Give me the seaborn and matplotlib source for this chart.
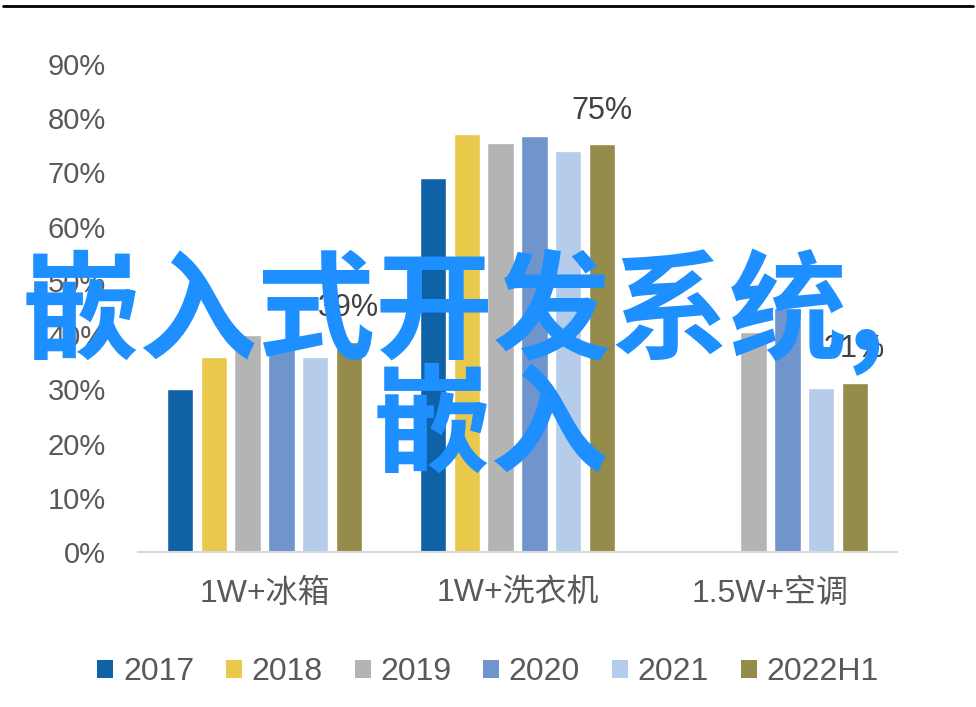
import matplotlib
matplotlib.use("Agg")
import matplotlib.pyplot as plt
import seaborn as sns
import numpy as np
import pandas as pd
from matplotlib.patches import Patch
from matplotlib.lines import Line2D

categories = ["1W+冰箱", "1W+洗衣机", "1.5W+空调"]
years = ["2017", "2018", "2019", "2020", "2021", "2022H1"]
v2017 = [0.30, 0.69, np.nan]
v2018 = [0.36, 0.77, np.nan]
v2019 = [0.40, 0.755, 0.405]
v2020 = [0.38, 0.768, 0.45]
v2021 = [0.36, 0.74, 0.303]
v2022 = [0.388, 0.752, 0.312]
label_texts = ["39%", "75%", "31%"]
colors = ["#0F62A6", "#E9C94B", "#B4B4B4", "#7095CC", "#B5CCEA", "#958B4A"]
yticks = [0, 0.1, 0.2, 0.3, 0.4, 0.5, 0.6, 0.7, 0.8, 0.9]
overlay1 = "嵌入式开发系统,"
overlay2 = "嵌入"

series = [v2017, v2018, v2019, v2020, v2021, v2022]
rows = []
for y, vals in zip(years, series):
    for c, v in zip(categories, vals):
        rows.append({"cat": c, "year": y, "val": v})
df = pd.DataFrame(rows)

sns.set_theme(style="white")
plt.rcParams['font.family'] = ['Liberation Sans', 'Noto Sans CJK SC', 'DejaVu Sans']

fig = plt.figure(figsize=(9.76, 7.07), dpi=100)
ax = fig.add_axes([138/976, 1-552/707, (897-138)/976, (552-64)/707])

sns.barplot(data=df, x="cat", y="val", hue="year", order=categories,
            hue_order=years, palette=colors, width=0.8, gap=0.22,
            saturation=1, ax=ax, legend=False, errorbar=None)

ax.set_ylim(0, 0.9)
ax.set_xlim(-0.5, 2.5)
ax.set_yticks(yticks)
ax.set_yticklabels([f"{int(round(t*100))}%" for t in yticks])
ax.set_xlabel("")
ax.set_ylabel("")
for s in ["top", "right", "left"]:
    ax.spines[s].set_visible(False)
ax.spines["bottom"].set_color("#D9D9D9")
ax.spines["bottom"].set_linewidth(1.5)
ax.tick_params(axis="y", length=0, pad=23, labelsize=21, labelcolor="#595959")
ax.tick_params(axis="x", length=0, pad=19, labelsize=23, labelcolor="#595959")
for lab in ax.get_xticklabels():
    lab.set_fontfamily(['Liberation Sans', 'Noto Sans CJK SC'])

# data labels on 2022H1 bars
last = ax.containers[-1]
for bar, txt in zip(last.patches, label_texts):
    ax.annotate(txt, (bar.get_x() + bar.get_width()/2, bar.get_height()),
                xytext=(0, 24), textcoords="offset points", ha="center",
                va="center", fontsize=22, color="#404040")

handles = [Patch(facecolor=c, edgecolor="none") for c in colors]
fig.legend(handles, years, loc="center", bbox_to_anchor=(0.5, 1-672/707),
           ncol=6, frameon=False, fontsize=23, handlelength=0.5,
           handleheight=0.5, handletextpad=0.3, columnspacing=1.0,
           labelcolor="#595959")

# top rule line
fig.add_artist(Line2D([0.003, 0.997], [1-6/707, 1-6/707], color="black",
                      linewidth=2, transform=fig.transFigure))

# overlay watermark text
fig.text(22/976, 1-312/707, overlay1, ha="left", va="center", fontsize=85,
         fontweight="bold", color="#1E8FFF",
         family=['Noto Sans CJK SC', 'DejaVu Sans'])
fig.text(491/976, 1-428/707, overlay2, ha="center", va="center", fontsize=85,
         fontweight="bold", color="#1E8FFF",
         family=['Noto Sans CJK SC', 'DejaVu Sans'])

fig.savefig("out.png", dpi=100)
